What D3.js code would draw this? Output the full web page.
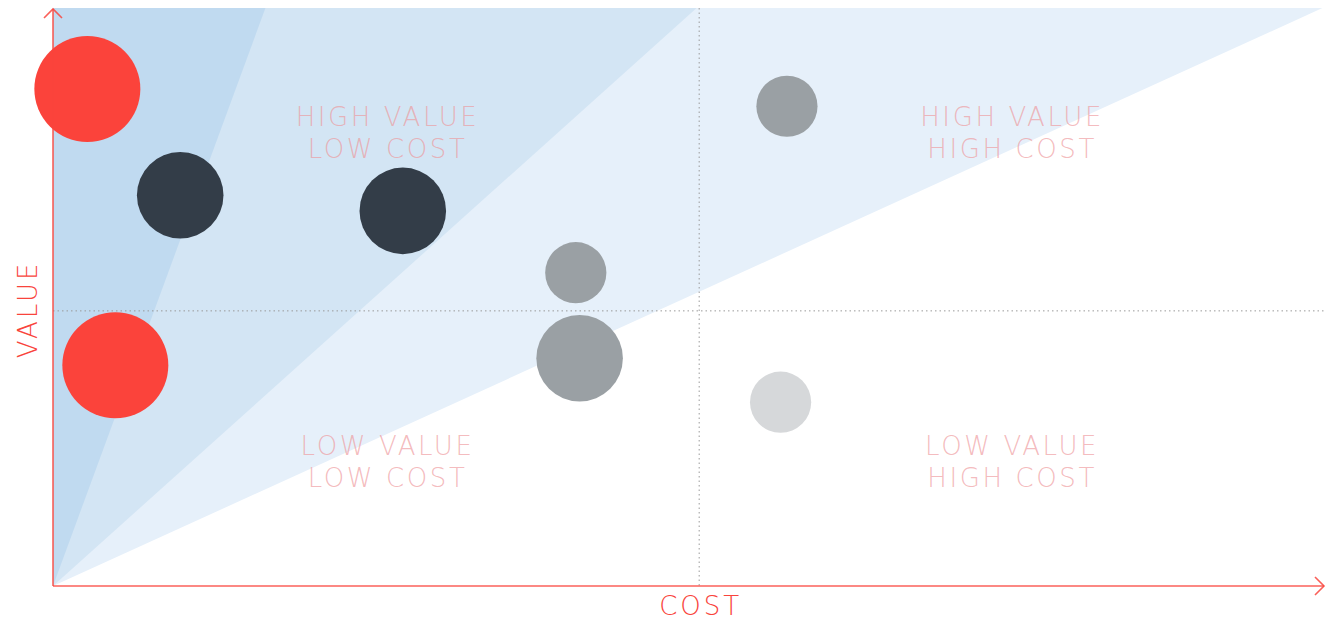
<!DOCTYPE html>
<html>
<head>
<meta charset="utf-8">
<script src="https://cdn.jsdelivr.net/npm/d3@7"></script>
<style>
  html, body { margin: 0; padding: 0; background: #fff; }
  svg { display: block; }
  .quad-label { font-family: "DejaVu Sans", Lato, sans-serif; font-weight: 200; font-size: 26px; letter-spacing: 2.6px; fill: #ee9599; fill-opacity: 0.65; }
  .axis-title { font-family: "DejaVu Sans", Lato, sans-serif; font-weight: 200; font-size: 26px; letter-spacing: 3px; fill: #f9443c; }
</style>
</head>
<body>
<svg id="chart"></svg>
<script>
// ---- data ------------------------------------------------------------------
const costs  = [2.7, 10.0, 27.5, 41.1, 41.4, 57.7, 57.2, 4.9];
const values = [86.0, 67.6, 64.9, 54.2, 39.4, 83.0, 31.8, 38.2];
const sizes  = [3, 2, 2, 1, 2, 1, 1, 3];
const groups = ['critical', 'core', 'core', 'active', 'active', 'active', 'idle', 'critical'];

const xSplit = 50.8, ySplit = 47.6;
// top edge x of each shaded wedge (value = 100)
const wedgeTops = [99.8, 50.6, 16.7];
const quadLabels = [
  { x: 26.3, y: 79.6, lines: ['HIGH VALUE', 'LOW COST'] },
  { x: 75.4, y: 79.6, lines: ['HIGH VALUE', 'HIGH COST'] },
  { x: 26.3, y: 22.7, lines: ['LOW VALUE', 'LOW COST'] },
  { x: 75.4, y: 22.7, lines: ['LOW VALUE', 'HIGH COST'] }
];

// ---- layout ----------------------------------------------------------------
const W = 1334, H = 621;
const M = { top: 8, right: 9, bottom: 35, left: 53 };
const RED = '#f9443c';

const svg = d3.select('#chart').attr('width', W).attr('height', H);

const x = d3.scaleLinear().domain([0, 100]).range([M.left, W - M.right]);
const y = d3.scaleLinear().domain([0, 100]).range([H - M.bottom, M.top]);
const r = d3.scaleSqrt().domain([0, 3]).range([0, 53]);
const color = d3.scaleOrdinal()
  .domain(['critical', 'core', 'active', 'idle'])
  .range(['#fb433b', '#333d48', '#9aa0a4', '#d6d8da']);
const wedgeColor = ['#e6f0fa', '#d3e5f4', '#c0daf0'];

// Wedges
svg.append('g').selectAll('path').data(wedgeTops).join('path')
  .attr('d', t => d3.line()([[x(0), y(0)], [x(t), y(100)], [x(0), y(100)]]) + 'Z')
  .attr('fill', (d, i) => wedgeColor[i]);

// Quadrant split lines
svg.append('line')
  .attr('x1', x(xSplit)).attr('x2', x(xSplit)).attr('y1', y(100)).attr('y2', y(0))
  .attr('stroke', '#9a9a9a').attr('stroke-width', 1).attr('stroke-dasharray', '1.5,3');
svg.append('line')
  .attr('x1', x(0)).attr('x2', x(100)).attr('y1', y(ySplit)).attr('y2', y(ySplit))
  .attr('stroke', '#9a9a9a').attr('stroke-width', 1).attr('stroke-dasharray', '1.5,3');

// Quadrant labels
const ql = svg.append('g').selectAll('text').data(quadLabels).join('text')
  .attr('class', 'quad-label').attr('text-anchor', 'middle')
  .attr('transform', d => `translate(${x(d.x)},${y(d.y)})`);
ql.selectAll('tspan').data(d => d.lines).join('tspan')
  .attr('x', 0).attr('dy', (d, i) => i === 0 ? 0 : 32.5).text(d => d);

// Bubbles
svg.append('g').selectAll('circle').data(costs).join('circle')
  .attr('cx', d => x(d)).attr('cy', (d, i) => y(values[i]))
  .attr('r', (d, i) => r(sizes[i]))
  .attr('fill', (d, i) => color(groups[i]));

// Axes with arrowheads
const axes = svg.append('g').attr('stroke', RED).attr('stroke-width', 1.6).attr('fill', 'none')
  .attr('stroke-opacity', 0.85);
axes.append('line').attr('x1', x(0)).attr('x2', x(0)).attr('y1', y(0)).attr('y2', M.top + 1);
axes.append('line').attr('x1', x(0)).attr('x2', W - 10).attr('y1', y(0)).attr('y2', y(0));
axes.append('path').attr('d', `M${x(0) - 9},${M.top + 10}L${x(0)},${M.top + 1}L${x(0) + 9},${M.top + 10}`);
axes.append('path').attr('d', `M${W - 19},${y(0) - 9}L${W - 10},${y(0)}L${W - 19},${y(0) + 9}`);

// Axis titles
svg.append('text').attr('class', 'axis-title').attr('text-anchor', 'middle')
  .attr('x', x(xSplit) + 1.5).attr('y', H - 6).text('COST');
svg.append('text').attr('class', 'axis-title').attr('text-anchor', 'middle')
  .attr('transform', `translate(37,${y(ySplit) - 1.5}) rotate(-90)`).text('VALUE');
</script>
</body>
</html>
